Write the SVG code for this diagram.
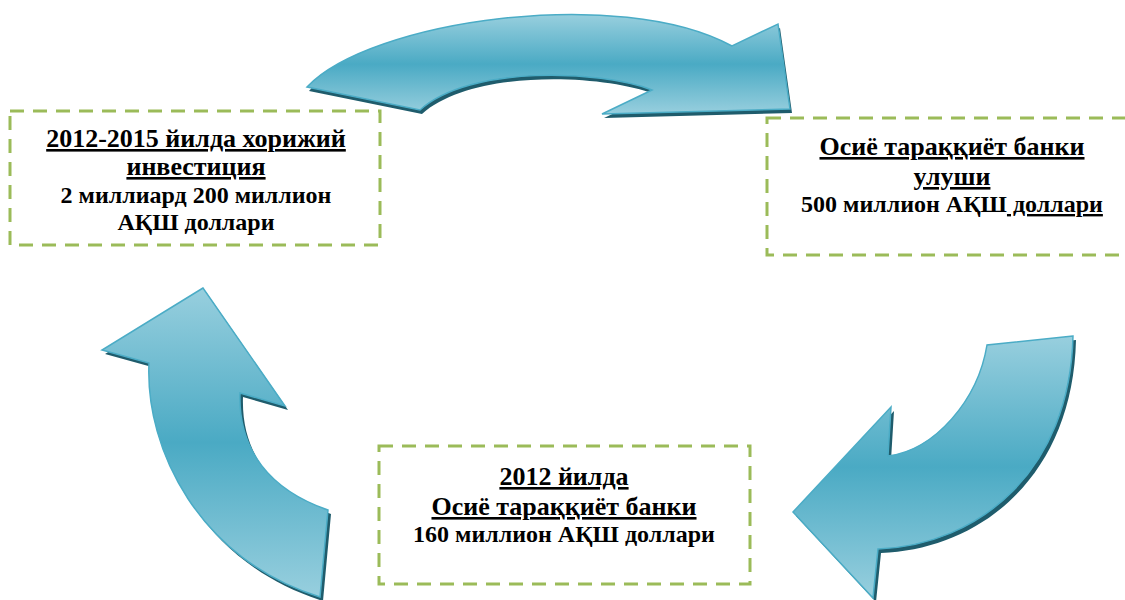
<svg xmlns="http://www.w3.org/2000/svg" width="1125" height="600" viewBox="0 0 1125 600">
<style>
.box{fill:none;stroke:#9bbb59;stroke-width:3;stroke-dasharray:14 9}
.arrow{stroke:#4bacc6;stroke-width:1.5;stroke-linejoin:miter}
.shadow{fill:#1f5c6c}
.t{font-weight:bold;fill:#000;text-anchor:middle}
.h{font-size:26px;text-decoration:underline}
.b{font-size:24px}
.u{text-decoration:underline}
</style>
<defs>
<linearGradient id="g" x1="0" y1="0" x2="0" y2="1">
<stop offset="0" stop-color="#98cfde"/>
<stop offset="0.5" stop-color="#4aaac4"/>
<stop offset="1" stop-color="#98cfde"/>
</linearGradient>
</defs>
<rect width="1125" height="600" fill="#fff"/>
<g id="connectors">
<g id="arrow-top">
<path class="shadow" transform="translate(2,4)" d="M307,87 C370,20 620,-15 732,46 L778,24 L790,109 L602,114 L652,90 C600,70 470,65 420,110 Z"/>
<path class="arrow" fill="url(#g)" d="M307,87 C370,20 620,-15 732,46 L778,24 L790,109 L602,114 L652,90 C600,70 470,65 420,110 Z"/>
</g>
<g id="arrow-right">
<path class="shadow" transform="translate(3,4)" d="M1073,336 L987,345 C978,400 935,450 888,456 L891,407 L793,512 L873,598 L878,549 C980,545 1070,470 1073,336 Z"/>
<path class="arrow" fill="url(#g)" d="M1073,336 L987,345 C978,400 935,450 888,456 L891,407 L793,512 L873,598 L878,549 C980,545 1070,470 1073,336 Z"/>
</g>
<g id="arrow-left">
<path class="shadow" transform="translate(3,4)" d="M203,288 L102,350 L149,363 C145,450 200,560 320,597 L328,510 C270,490 238,450 240,393 L285,406 Z"/>
<path class="arrow" fill="url(#g)" d="M203,288 L102,350 L149,363 C145,450 200,560 320,597 L328,510 C270,490 238,450 240,393 L285,406 Z"/>
</g>
</g>
<g id="node-foreign">
<rect class="box" x="10" y="111" width="370" height="134"/>
<text class="t h" font-family="Liberation Serif" x="196" y="147">2012-2015 йилда хорижий</text>
<text class="t h" font-family="Liberation Serif" x="196" y="175">инвестиция</text>
<text class="t b" font-family="Liberation Serif" x="196" y="203">2 миллиард 200 миллион</text>
<text class="t b" font-family="Liberation Serif" x="196" y="230">АҚШ доллари</text>
</g>
<g id="node-adb-share">
<rect class="box" x="767" y="118" width="372" height="137"/>
<text class="t h" font-family="Liberation Serif" x="952" y="155">Осиё тараққиёт банки</text>
<text class="t h" font-family="Liberation Serif" x="952" y="185">улуши</text>
<text class="t b" font-family="Liberation Serif" x="952" y="212">500 миллион АҚШ<tspan class="u"> доллари</tspan></text>
</g>
<g id="node-adb-2012">
<rect class="box" x="379" y="446" width="371" height="138"/>
<text class="t h" font-family="Liberation Serif" x="564" y="485">2012 йилда</text>
<text class="t h" font-family="Liberation Serif" x="564" y="515">Осиё тараққиёт банки</text>
<text class="t b" font-family="Liberation Serif" x="564" y="542">160 миллион АҚШ доллари</text>
</g>
</svg>
